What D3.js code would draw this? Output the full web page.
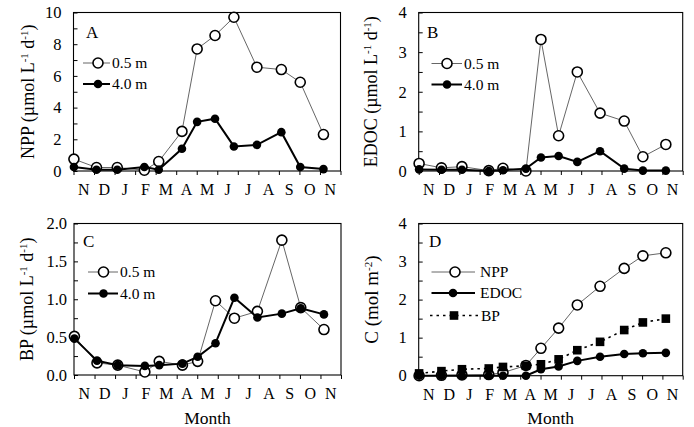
<!DOCTYPE html>
<html>
<head>
<meta charset="utf-8">
<script src="https://cdn.jsdelivr.net/npm/d3@7"></script>
<style>
  html, body { margin: 0; padding: 0; background: #fff; }
  svg { display: block; }
  text { font-family: "Liberation Serif", "Times New Roman", serif; fill: #000; }
</style>
</head>
<body>
<svg id="chart" width="694" height="427"></svg>
<script>
// ---- data ----
const monthLabels = ["N","D","J","F","M","A","M","J","J","A","S","O","N"];
// sampling dates, in months since 1 November
const sampleMonths = [0.02, 1.12, 2.13, 3.45, 4.15, 5.28, 6.02, 6.89, 7.81, 8.93, 10.12, 11.04, 12.17];

const nppSurface = [0.75, 0.22, 0.22, 0.05, 0.6, 2.5, 7.7, 8.55, 9.7, 6.55, 6.4, 5.6, 2.3];
const nppDeep    = [0.25, 0.08, 0.08, 0.25, 0.08, 1.4, 3.1, 3.3, 1.55, 1.65, 2.45, 0.25, 0.12];

const edocSurface = [0.19, 0.08, 0.11, 0.01, 0.07, 0.0, 3.32, 0.89, 2.5, 1.46, 1.26, 0.36, 0.67];
const edocDeep    = [0.04, 0.03, 0.03, 0.0, 0.02, 0.06, 0.34, 0.38, 0.23, 0.5, 0.06, 0.01, 0.01];

const bpSurface = [0.51, 0.16, 0.13, 0.04, 0.18, 0.13, 0.18, 0.98, 0.75, 0.84, 1.78, 0.89, 0.6];
const bpDeep    = [0.48, 0.19, 0.13, 0.12, 0.13, 0.15, 0.24, 0.42, 1.02, 0.76, 0.81, 0.88, 0.8];

const cumNPP  = [0.0, 0.01, 0.02, 0.03, 0.08, 0.27, 0.72, 1.25, 1.86, 2.35, 2.82, 3.15, 3.23];
const cumEDOC = [0.0, 0.0, 0.0, 0.0, 0.0, 0.0, 0.17, 0.24, 0.39, 0.5, 0.57, 0.59, 0.6];
const cumBP   = [0.06, 0.12, 0.17, 0.19, 0.23, 0.26, 0.3, 0.43, 0.67, 0.89, 1.2, 1.4, 1.5];

const yTicksA = [0, 2, 4, 6, 8, 10];
const yTicksB = [0, 1, 2, 3, 4];
const yTicksC = [0, 0.5, 1.0, 1.5, 2.0];
const yTicksD = [0, 1, 2, 3, 4];

const svg = d3.select("#chart");

function panel(opts) {
  const {x0, x1, y0, y1, yMax, yTicks, yFmt, minorStep, letter, ytitle, titleX, titleSize,
         series, legend, showMonth, labelGap} = opts;
  const g = svg.append("g");
  const x = d3.scaleLinear().domain([0, 13]).range([x0, x1]);
  const y = d3.scaleLinear().domain([0, yMax]).range([y1, y0]);

  // frame
  g.append("rect").attr("x", x0).attr("y", y0).attr("width", x1 - x0).attr("height", y1 - y0)
    .attr("fill", "none").attr("stroke", "#000").attr("stroke-width", 1.1);

  // x ticks (outward, month boundaries)
  const xAxis = d3.axisBottom(x).tickValues(d3.range(0, 14)).tickSize(4).tickFormat("");
  const xa = g.append("g").attr("transform", `translate(0,${y1})`).call(xAxis);
  xa.select(".domain").remove();
  xa.selectAll("line").attr("stroke", "#000");

  // month labels at mid-month
  g.selectAll(".ml").data(monthLabels).enter().append("text")
    .attr("x", (d, i) => x(i + 0.5)).attr("y", y1 + 24)
    .attr("text-anchor", "middle").attr("font-size", 16).text(d => d);

  // y ticks inward incl. minor
  const minor = d3.range(0, yMax + 1e-9, minorStep);
  const ya = g.append("g").attr("transform", `translate(${x0},0)`)
    .call(d3.axisRight(y).tickValues(minor).tickSize(4).tickFormat(""));
  ya.select(".domain").remove();
  ya.selectAll("line").attr("stroke", "#000");

  g.selectAll(".yl").data(yTicks).enter().append("text")
    .attr("x", x0 - labelGap).attr("y", d => y(d)).attr("dy", "0.35em")
    .attr("text-anchor", "end").attr("font-size", 16.5).text(d => yFmt(d));

  // y title
  const t = g.append("text").attr("transform", `translate(${titleX},${(y0 + y1) / 2}) rotate(-90)`)
    .attr("text-anchor", "middle").attr("font-size", titleSize);
  ytitle.forEach(p => {
    const ts = t.append("tspan").text(p.t);
    if (p.sup) ts.attr("font-size", 11).attr("dy", -6);
    if (p.down) ts.attr("dy", 6);
  });

  // panel letter
  g.append("text").attr("x", letter.x).attr("y", letter.y).attr("font-size", 17).text(letter.t);

  // series
  series.forEach(s => {
    const pts = s.values.map((v, i) => [x(sampleMonths[i]), y(v)]);
    g.append("path").attr("d", d3.line()(pts)).attr("fill", "none")
      .attr("stroke", s.lineColor).attr("stroke-width", s.lw)
      .attr("stroke-dasharray", s.dash || null);
    drawMarkers(g, pts, s.marker);
  });

  // legend
  legend.forEach(l => {
    g.append("line").attr("x1", l.lx1).attr("x2", l.lx2).attr("y1", l.y).attr("y2", l.y)
      .attr("stroke", l.s.lineColor).attr("stroke-width", l.s.lw).attr("stroke-dasharray", l.s.dash || null);
    drawMarkers(g, [[l.mx, l.y]], l.s.marker);
    g.append("text").attr("x", l.tx).attr("y", l.y).attr("dy", "0.35em")
      .attr("font-size", 15.5).text(l.label);
  });

  if (showMonth) {
    g.append("text").attr("x", (x0 + x1) / 2).attr("y", 424).attr("text-anchor", "middle")
      .attr("font-size", 17.5).text("Month");
  }
}

function drawMarkers(g, pts, m) {
  if (m === "open") {
    g.selectAll(null).data(pts).enter().append("circle")
      .attr("cx", d => d[0]).attr("cy", d => d[1]).attr("r", 5)
      .attr("fill", "#fff").attr("stroke", "#000").attr("stroke-width", 1.6);
  } else if (m === "filled") {
    g.selectAll(null).data(pts).enter().append("circle")
      .attr("cx", d => d[0]).attr("cy", d => d[1]).attr("r", 4.3).attr("fill", "#000");
  } else if (m === "square") {
    g.selectAll(null).data(pts).enter().append("rect")
      .attr("x", d => d[0] - 4.3).attr("y", d => d[1] - 4.3).attr("width", 8.6).attr("height", 8.6)
      .attr("fill", "#000");
  }
}

const sOpen = v => ({values: v, marker: "open", lineColor: "#555", lw: 0.9});
const sFill = v => ({values: v, marker: "filled", lineColor: "#000", lw: 2});

const fmtInt = d => d3.format("d")(d);
const fmt1 = d => d3.format(".1f")(d);

function depthLegend(yA, yB, lx1, lx2, mx, tx) {
  return [
    {y: yA, lx1, lx2, mx, tx, s: sOpen([]), label: "0.5 m"},
    {y: yB, lx1, lx2, mx, tx, s: sFill([]), label: "4.0 m"}
  ];
}

// Panel A
panel({
  x0: 73.5, x1: 340.5, y0: 12.5, y1: 171, yMax: 10, yTicks: yTicksA, yFmt: fmtInt, minorStep: 1,
  labelGap: 12, titleX: 34, titleSize: 18,
  letter: {x: 86, y: 38, t: "A"},
  ytitle: [{t: "NPP (µmol L"}, {t: "-1", sup: true}, {t: " d", down: true}, {t: "-1", sup: true}, {t: ")", down: true}],
  series: [sOpen(nppSurface), sFill(nppDeep)],
  legend: depthLegend(63, 84, 83, 110, 98, 112),
  showMonth: false
});

// Panel B
panel({
  x0: 418.7, x1: 682.7, y0: 12.5, y1: 171, yMax: 4, yTicks: yTicksB, yFmt: fmtInt, minorStep: 0.5,
  labelGap: 12, titleX: 377, titleSize: 18,
  letter: {x: 427, y: 38, t: "B"},
  ytitle: [{t: "EDOC (µmol L"}, {t: "-1", sup: true}, {t: " d", down: true}, {t: "-1", sup: true}, {t: ")", down: true}],
  series: [sOpen(edocSurface), sFill(edocDeep)],
  legend: depthLegend(63.5, 84.5, 431.5, 462, 447, 464),
  showMonth: false
});

// Panel C
panel({
  x0: 74, x1: 341, y0: 223.5, y1: 375, yMax: 2, yTicks: yTicksC, yFmt: fmt1, minorStep: 0.25,
  labelGap: 7, titleX: 33, titleSize: 18,
  letter: {x: 83, y: 247, t: "C"},
  ytitle: [{t: "BP (µmol L"}, {t: "-1", sup: true}, {t: " d", down: true}, {t: "-1", sup: true}, {t: ")", down: true}],
  series: [sOpen(bpSurface), sFill(bpDeep)],
  legend: depthLegend(272, 293.5, 88, 118, 103.5, 120),
  showMonth: true
});

// Panel D
const sBP = {values: cumBP, marker: "square", lineColor: "#000", lw: 1.6, dash: "2.5,4"};
panel({
  x0: 418.7, x1: 682.7, y0: 223.5, y1: 375.7, yMax: 4, yTicks: yTicksD, yFmt: fmtInt, minorStep: 0.5,
  labelGap: 12, titleX: 378, titleSize: 19,
  letter: {x: 429, y: 247, t: "D"},
  ytitle: [{t: "C (mol m"}, {t: "-2", sup: true}, {t: ")", down: true}],
  series: [sOpen(cumNPP), sFill(cumEDOC), sBP],
  legend: [
    {y: 272, lx1: 431.5, lx2: 475, mx: 455, tx: 480, s: sOpen([]), label: "NPP"},
    {y: 293, lx1: 431.5, lx2: 475, mx: 453, tx: 480, s: sFill([]), label: "EDOC"},
    {y: 315.5, lx1: 430, lx2: 478, mx: 454, tx: 481, s: sBP, label: "BP"}
  ],
  showMonth: true
});
</script>
</body>
</html>
